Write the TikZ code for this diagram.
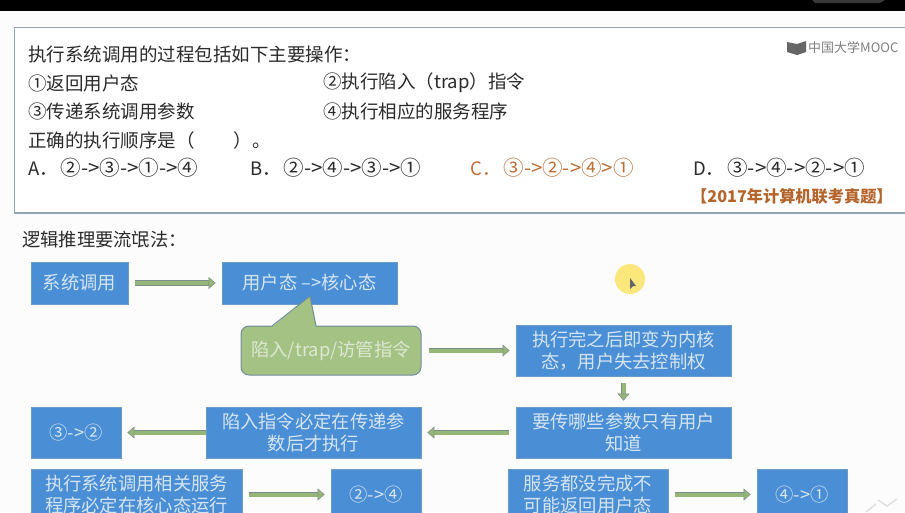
\documentclass[tikz,border=0pt]{standalone}
\usepackage{fontspec}
\setmainfont{Noto Sans CJK SC}
\usetikzlibrary{arrows.meta}
\definecolor{boxblue}{HTML}{4A8FD6}
\definecolor{boxedge}{HTML}{6C9BC4}
\definecolor{boxtext}{HTML}{D5E4F3}
\definecolor{notegreen}{HTML}{A4C284}
\definecolor{noteedge}{HTML}{6F8E9C}
\definecolor{notetext}{HTML}{DDE8D2}
\definecolor{arrowgreen}{HTML}{95B676}
\definecolor{arrowedge}{HTML}{7C8C8C}
\definecolor{paneledge}{HTML}{8FA5B0}
\definecolor{inktext}{HTML}{2A2A2A}
\definecolor{answer}{HTML}{BE6F38}
\definecolor{source}{HTML}{B5642C}
\definecolor{spot}{HTML}{FBE77C}
\newcommand{\seqsize}{\hspace{3pt}\fontsize{20.5}{22}\selectfont}
\tikzset{
  qtext/.style={anchor=west,inner sep=0pt,text=inktext,font=\fontsize{18.5}{22}\selectfont},
  bluebox/.style={rectangle,draw=boxedge,line width=0.8pt,fill=boxblue,text=boxtext,align=center,inner sep=0pt,minimum height=51pt,font=\fontsize{18.3}{22}\selectfont},
  flowarrow/.style={draw=arrowedge,line width=0.7pt,double=arrowgreen,double distance=4pt,-{Triangle[length=7pt,width=12pt,fill=arrowgreen,color=arrowedge,line width=0.5pt]},shorten <=7pt,shorten >=6pt}
}
\begin{document}
\begin{tikzpicture}[x=1pt,y=-1pt]
\path[use as bounding box,clip] (0,0) rectangle (905,512);
\fill[white!99!black] (0,0) rectangle (905,512);
\fill[black] (0,0) rectangle (905,11);
\fill[black!78] (812,0) -- (885,0) -- (880,3) -- (815,3) -- cycle;
\draw[paneledge,line width=1.4pt,fill=white] (14.5,27.5) rectangle (906,213);

\coordinate (A) at (79.5,283);
\coordinate (B) at (309.5,283);
\coordinate (C) at (331,350.5);
\coordinate (D) at (623.5,350.5);
\coordinate (E) at (623.5,432.5);
\coordinate (F) at (313.5,432.5);
\coordinate (G) at (76,432.5);
\coordinate (H) at (136.5,494.5);
\coordinate (I) at (376,494.5);
\coordinate (J) at (588,494.5);
\coordinate (K) at (802,494.5);
\coordinate (P) at (310,296);

\node[qtext] (title) at (28,54) {执行系统调用的过程包括如下主要操作：};
\node[qtext] (op1) at (28,83) {①返回用户态};
\node[qtext] (op2) at (323,83) {②执行陷入（trap）指令};
\node[qtext] (op3) at (28,111) {③传递系统调用参数};
\node[qtext] (op4) at (323,111) {④执行相应的服务程序};
\node[qtext] (ask) at (28,140) {正确的执行顺序是（\hspace{2.1em}）。};
\node[qtext] (optA) at (28,168) {A．{\seqsize ②->③->①->④}};
\node[qtext] (optB) at (250,168) {B．{\seqsize ②->④->③->①}};
\node[qtext,text=answer] (optC) at (470,168) {C．{\seqsize ③->②->④>①}};
\node[qtext] (optD) at (693,168) {D．{\seqsize ③->④->②->①}};
\node[qtext,text=source,font=\fontsize{16.2}{18}\selectfont\bfseries] (year) at (691,196) {【2017年计算机联考真题】};
\node[qtext,text=black!50,font=\fontsize{13}{15}\selectfont] (mooc) at (808,47) {中国大学MOOC};
\fill[black!60] (787,42) -- (797,44) -- (806,41) -- (806,52) -- (797,55) -- (787,52) -- cycle;
\node[qtext,font=\fontsize{18.3}{21}\selectfont] (method) at (22,240) {逻辑推理要流氓法：};

\node[bluebox,minimum width=97pt,minimum height=42pt] (A1) at (A) {系统调用};
\node[bluebox,minimum width=175pt,minimum height=42pt] (B1) at (B) {用户态 -->核心态};
\node[rectangle,rounded corners=8pt,draw=noteedge,line width=1pt,fill=notegreen,text=notetext,minimum width=180pt,minimum height=49pt,inner sep=0pt,font=\fontsize{18.3}{22}\selectfont] (C1) at (C) {陷入/trap/访管指令};
\node[bluebox,minimum width=215pt] (D1) at (D) {执行完之后即变为内核\\态，用户失去控制权};
\node[bluebox,minimum width=215pt] (E1) at (E) {要传哪些参数只有用户\\知道};
\node[bluebox,minimum width=215pt] (F1) at (F) {陷入指令必定在传递参\\数后才执行};
\node[bluebox,minimum width=90pt] (G1) at (G) {③->②};
\node[bluebox,minimum width=211pt] (H1) at (H) {执行系统调用相关服务\\程序必定在核心态运行};
\node[bluebox,minimum width=90pt] (I1) at (I) {②->④};
\node[bluebox,minimum width=160pt] (J1) at (J) {服务都没完成不\\可能返回用户态};
\node[bluebox,minimum width=90pt] (K1) at (K) {④->①};

\fill[notegreen] (272,327) -- (P) -- (316,327) -- cycle;
\draw[noteedge,line width=1pt] (272,326) -- (P) -- (316,326);

\draw[flowarrow] (A1) -- (B1);
\draw[flowarrow] (C1) -- (D1);
\draw[flowarrow] (D1) -- (E1);
\draw[flowarrow] (E1) -- (F1);
\draw[flowarrow,shorten <=0pt] (F1) -- (G1);
\draw[flowarrow] (H1) -- (I1);
\draw[flowarrow] (J1) -- (K1);

\fill[spot] (630,279) circle (15);
\fill[black!60] (630,278) -- (630,289) -- (633,286) -- (636,286) -- cycle;
\draw[black!12,line width=1.5pt] (866,512) -- (876,504) (878,500) -- (887,506) -- (897,499);
\end{tikzpicture}
\end{document}
